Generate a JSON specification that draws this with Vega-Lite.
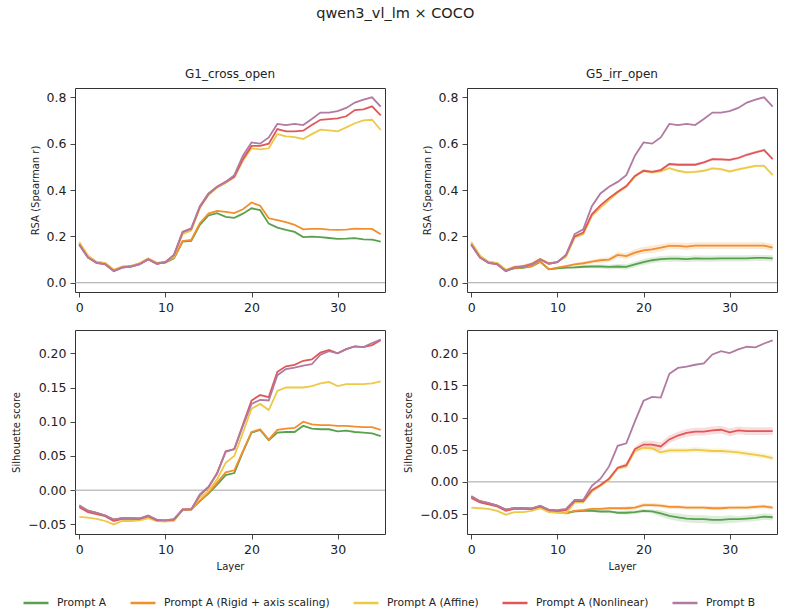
{
  "$schema": "https://vega.github.io/schema/vega-lite/v6.json",
  "padding": {"left": 11, "top": 5, "right": 8, "bottom": 5},
  "title": {"text": "qwen3_vl_lm × COCO", "fontSize": 14.5, "fontWeight": "normal", "anchor": "middle", "offset": 47, "color": "#222"},
  "config": {
    "font": "DejaVu Sans",
    "view": {"stroke": null},
    "axis": {"labelFont": "DejaVu Sans", "labelFontSize": 12.5, "labelColor": "#222", "tickColor": "#333", "tickSize": 5, "tickWidth": 0.9, "labelPadding": 4, "domain": true, "domainColor": "#333", "domainWidth": 1, "gridColor": "#e8e8e8", "gridWidth": 0.8, "titleFont": "DejaVu Sans", "titleFontSize": 10, "titleFontWeight": "normal", "titleColor": "#222", "titlePadding": 6},
    "title": {"font": "DejaVu Sans", "fontSize": 12, "fontWeight": "normal", "color": "#222", "offset": 7},
    "legend": {"labelFont": "DejaVu Sans", "labelFontSize": 10.7, "labelColor": "#222", "labelLimit": 400}
  },
  "datasets": {
    "zero": [{"l": -0.5, "z": 0}, {"l": 35.5, "z": 0}],
    "g1rsa": [
      {"s":"Prompt A","l":0,"v":0.168},{"s":"Prompt A","l":1,"v":0.112},{"s":"Prompt A","l":2,"v":0.087},{"s":"Prompt A","l":3,"v":0.082},{"s":"Prompt A","l":4,"v":0.052},{"s":"Prompt A","l":5,"v":0.066},{"s":"Prompt A","l":6,"v":0.071},{"s":"Prompt A","l":7,"v":0.081},{"s":"Prompt A","l":8,"v":0.102},{"s":"Prompt A","l":9,"v":0.083},{"s":"Prompt A","l":10,"v":0.087},{"s":"Prompt A","l":11,"v":0.105},{"s":"Prompt A","l":12,"v":0.177},{"s":"Prompt A","l":13,"v":0.18},{"s":"Prompt A","l":14,"v":0.25},{"s":"Prompt A","l":15,"v":0.29},{"s":"Prompt A","l":16,"v":0.3},{"s":"Prompt A","l":17,"v":0.284},{"s":"Prompt A","l":18,"v":0.28},{"s":"Prompt A","l":19,"v":0.298},{"s":"Prompt A","l":20,"v":0.321},{"s":"Prompt A","l":21,"v":0.313},{"s":"Prompt A","l":22,"v":0.255},{"s":"Prompt A","l":23,"v":0.238},{"s":"Prompt A","l":24,"v":0.228},{"s":"Prompt A","l":25,"v":0.219},{"s":"Prompt A","l":26,"v":0.197},{"s":"Prompt A","l":27,"v":0.199},{"s":"Prompt A","l":28,"v":0.197},{"s":"Prompt A","l":29,"v":0.193},{"s":"Prompt A","l":30,"v":0.189},{"s":"Prompt A","l":31,"v":0.19},{"s":"Prompt A","l":32,"v":0.192},{"s":"Prompt A","l":33,"v":0.187},{"s":"Prompt A","l":34,"v":0.186},{"s":"Prompt A","l":35,"v":0.177},
      {"s":"Prompt A (Rigid + axis scaling)","l":0,"v":0.173},{"s":"Prompt A (Rigid + axis scaling)","l":1,"v":0.115},{"s":"Prompt A (Rigid + axis scaling)","l":2,"v":0.089},{"s":"Prompt A (Rigid + axis scaling)","l":3,"v":0.085},{"s":"Prompt A (Rigid + axis scaling)","l":4,"v":0.055},{"s":"Prompt A (Rigid + axis scaling)","l":5,"v":0.069},{"s":"Prompt A (Rigid + axis scaling)","l":6,"v":0.072},{"s":"Prompt A (Rigid + axis scaling)","l":7,"v":0.084},{"s":"Prompt A (Rigid + axis scaling)","l":8,"v":0.104},{"s":"Prompt A (Rigid + axis scaling)","l":9,"v":0.086},{"s":"Prompt A (Rigid + axis scaling)","l":10,"v":0.089},{"s":"Prompt A (Rigid + axis scaling)","l":11,"v":0.108},{"s":"Prompt A (Rigid + axis scaling)","l":12,"v":0.18},{"s":"Prompt A (Rigid + axis scaling)","l":13,"v":0.185},{"s":"Prompt A (Rigid + axis scaling)","l":14,"v":0.257},{"s":"Prompt A (Rigid + axis scaling)","l":15,"v":0.298},{"s":"Prompt A (Rigid + axis scaling)","l":16,"v":0.31},{"s":"Prompt A (Rigid + axis scaling)","l":17,"v":0.306},{"s":"Prompt A (Rigid + axis scaling)","l":18,"v":0.3},{"s":"Prompt A (Rigid + axis scaling)","l":19,"v":0.317},{"s":"Prompt A (Rigid + axis scaling)","l":20,"v":0.346},{"s":"Prompt A (Rigid + axis scaling)","l":21,"v":0.332},{"s":"Prompt A (Rigid + axis scaling)","l":22,"v":0.278},{"s":"Prompt A (Rigid + axis scaling)","l":23,"v":0.27},{"s":"Prompt A (Rigid + axis scaling)","l":24,"v":0.261},{"s":"Prompt A (Rigid + axis scaling)","l":25,"v":0.25},{"s":"Prompt A (Rigid + axis scaling)","l":26,"v":0.23},{"s":"Prompt A (Rigid + axis scaling)","l":27,"v":0.232},{"s":"Prompt A (Rigid + axis scaling)","l":28,"v":0.232},{"s":"Prompt A (Rigid + axis scaling)","l":29,"v":0.229},{"s":"Prompt A (Rigid + axis scaling)","l":30,"v":0.228},{"s":"Prompt A (Rigid + axis scaling)","l":31,"v":0.229},{"s":"Prompt A (Rigid + axis scaling)","l":32,"v":0.233},{"s":"Prompt A (Rigid + axis scaling)","l":33,"v":0.232},{"s":"Prompt A (Rigid + axis scaling)","l":34,"v":0.232},{"s":"Prompt A (Rigid + axis scaling)","l":35,"v":0.209},
      {"s":"Prompt A (Affine)","l":0,"v":0.175},{"s":"Prompt A (Affine)","l":1,"v":0.117},{"s":"Prompt A (Affine)","l":2,"v":0.09},{"s":"Prompt A (Affine)","l":3,"v":0.086},{"s":"Prompt A (Affine)","l":4,"v":0.056},{"s":"Prompt A (Affine)","l":5,"v":0.069},{"s":"Prompt A (Affine)","l":6,"v":0.073},{"s":"Prompt A (Affine)","l":7,"v":0.083},{"s":"Prompt A (Affine)","l":8,"v":0.103},{"s":"Prompt A (Affine)","l":9,"v":0.085},{"s":"Prompt A (Affine)","l":10,"v":0.09},{"s":"Prompt A (Affine)","l":11,"v":0.112},{"s":"Prompt A (Affine)","l":12,"v":0.21},{"s":"Prompt A (Affine)","l":13,"v":0.225},{"s":"Prompt A (Affine)","l":14,"v":0.322},{"s":"Prompt A (Affine)","l":15,"v":0.378},{"s":"Prompt A (Affine)","l":16,"v":0.41},{"s":"Prompt A (Affine)","l":17,"v":0.43},{"s":"Prompt A (Affine)","l":18,"v":0.455},{"s":"Prompt A (Affine)","l":19,"v":0.526},{"s":"Prompt A (Affine)","l":20,"v":0.58},{"s":"Prompt A (Affine)","l":21,"v":0.575},{"s":"Prompt A (Affine)","l":22,"v":0.58},{"s":"Prompt A (Affine)","l":23,"v":0.641},{"s":"Prompt A (Affine)","l":24,"v":0.631},{"s":"Prompt A (Affine)","l":25,"v":0.628},{"s":"Prompt A (Affine)","l":26,"v":0.62},{"s":"Prompt A (Affine)","l":27,"v":0.641},{"s":"Prompt A (Affine)","l":28,"v":0.66},{"s":"Prompt A (Affine)","l":29,"v":0.657},{"s":"Prompt A (Affine)","l":30,"v":0.653},{"s":"Prompt A (Affine)","l":31,"v":0.67},{"s":"Prompt A (Affine)","l":32,"v":0.688},{"s":"Prompt A (Affine)","l":33,"v":0.7},{"s":"Prompt A (Affine)","l":34,"v":0.703},{"s":"Prompt A (Affine)","l":35,"v":0.659},
      {"s":"Prompt A (Nonlinear)","l":0,"v":0.165},{"s":"Prompt A (Nonlinear)","l":1,"v":0.109},{"s":"Prompt A (Nonlinear)","l":2,"v":0.086},{"s":"Prompt A (Nonlinear)","l":3,"v":0.08},{"s":"Prompt A (Nonlinear)","l":4,"v":0.051},{"s":"Prompt A (Nonlinear)","l":5,"v":0.066},{"s":"Prompt A (Nonlinear)","l":6,"v":0.07},{"s":"Prompt A (Nonlinear)","l":7,"v":0.08},{"s":"Prompt A (Nonlinear)","l":8,"v":0.101},{"s":"Prompt A (Nonlinear)","l":9,"v":0.082},{"s":"Prompt A (Nonlinear)","l":10,"v":0.089},{"s":"Prompt A (Nonlinear)","l":11,"v":0.12},{"s":"Prompt A (Nonlinear)","l":12,"v":0.218},{"s":"Prompt A (Nonlinear)","l":13,"v":0.233},{"s":"Prompt A (Nonlinear)","l":14,"v":0.327},{"s":"Prompt A (Nonlinear)","l":15,"v":0.382},{"s":"Prompt A (Nonlinear)","l":16,"v":0.414},{"s":"Prompt A (Nonlinear)","l":17,"v":0.435},{"s":"Prompt A (Nonlinear)","l":18,"v":0.457},{"s":"Prompt A (Nonlinear)","l":19,"v":0.533},{"s":"Prompt A (Nonlinear)","l":20,"v":0.59},{"s":"Prompt A (Nonlinear)","l":21,"v":0.59},{"s":"Prompt A (Nonlinear)","l":22,"v":0.6},{"s":"Prompt A (Nonlinear)","l":23,"v":0.663},{"s":"Prompt A (Nonlinear)","l":24,"v":0.653},{"s":"Prompt A (Nonlinear)","l":25,"v":0.653},{"s":"Prompt A (Nonlinear)","l":26,"v":0.656},{"s":"Prompt A (Nonlinear)","l":27,"v":0.68},{"s":"Prompt A (Nonlinear)","l":28,"v":0.703},{"s":"Prompt A (Nonlinear)","l":29,"v":0.706},{"s":"Prompt A (Nonlinear)","l":30,"v":0.709},{"s":"Prompt A (Nonlinear)","l":31,"v":0.718},{"s":"Prompt A (Nonlinear)","l":32,"v":0.745},{"s":"Prompt A (Nonlinear)","l":33,"v":0.748},{"s":"Prompt A (Nonlinear)","l":34,"v":0.761},{"s":"Prompt A (Nonlinear)","l":35,"v":0.722},
      {"s":"Prompt B","l":0,"v":0.163},{"s":"Prompt B","l":1,"v":0.108},{"s":"Prompt B","l":2,"v":0.086},{"s":"Prompt B","l":3,"v":0.079},{"s":"Prompt B","l":4,"v":0.05},{"s":"Prompt B","l":5,"v":0.065},{"s":"Prompt B","l":6,"v":0.07},{"s":"Prompt B","l":7,"v":0.079},{"s":"Prompt B","l":8,"v":0.1},{"s":"Prompt B","l":9,"v":0.082},{"s":"Prompt B","l":10,"v":0.089},{"s":"Prompt B","l":11,"v":0.12},{"s":"Prompt B","l":12,"v":0.22},{"s":"Prompt B","l":13,"v":0.235},{"s":"Prompt B","l":14,"v":0.33},{"s":"Prompt B","l":15,"v":0.385},{"s":"Prompt B","l":16,"v":0.414},{"s":"Prompt B","l":17,"v":0.435},{"s":"Prompt B","l":18,"v":0.464},{"s":"Prompt B","l":19,"v":0.548},{"s":"Prompt B","l":20,"v":0.605},{"s":"Prompt B","l":21,"v":0.6},{"s":"Prompt B","l":22,"v":0.627},{"s":"Prompt B","l":23,"v":0.685},{"s":"Prompt B","l":24,"v":0.68},{"s":"Prompt B","l":25,"v":0.685},{"s":"Prompt B","l":26,"v":0.68},{"s":"Prompt B","l":27,"v":0.706},{"s":"Prompt B","l":28,"v":0.734},{"s":"Prompt B","l":29,"v":0.734},{"s":"Prompt B","l":30,"v":0.74},{"s":"Prompt B","l":31,"v":0.754},{"s":"Prompt B","l":32,"v":0.777},{"s":"Prompt B","l":33,"v":0.79},{"s":"Prompt B","l":34,"v":0.8},{"s":"Prompt B","l":35,"v":0.76}
    ],
    "g5rsa": [
      {"s":"Prompt A","l":0,"v":0.168,"e":0},{"s":"Prompt A","l":1,"v":0.112,"e":0},{"s":"Prompt A","l":2,"v":0.087,"e":0},{"s":"Prompt A","l":3,"v":0.082,"e":0},{"s":"Prompt A","l":4,"v":0.052,"e":0},{"s":"Prompt A","l":5,"v":0.062,"e":0.001},{"s":"Prompt A","l":6,"v":0.064,"e":0.001},{"s":"Prompt A","l":7,"v":0.07,"e":0.001},{"s":"Prompt A","l":8,"v":0.09,"e":0.002},{"s":"Prompt A","l":9,"v":0.058,"e":0.003},{"s":"Prompt A","l":10,"v":0.062,"e":0.004},{"s":"Prompt A","l":11,"v":0.065,"e":0.005},{"s":"Prompt A","l":12,"v":0.066,"e":0.006},{"s":"Prompt A","l":13,"v":0.069,"e":0.007},{"s":"Prompt A","l":14,"v":0.07,"e":0.008},{"s":"Prompt A","l":15,"v":0.07,"e":0.009},{"s":"Prompt A","l":16,"v":0.068,"e":0.01},{"s":"Prompt A","l":17,"v":0.07,"e":0.011},{"s":"Prompt A","l":18,"v":0.068,"e":0.012},{"s":"Prompt A","l":19,"v":0.079,"e":0.012},{"s":"Prompt A","l":20,"v":0.089,"e":0.013},{"s":"Prompt A","l":21,"v":0.097,"e":0.013},{"s":"Prompt A","l":22,"v":0.102,"e":0.013},{"s":"Prompt A","l":23,"v":0.104,"e":0.013},{"s":"Prompt A","l":24,"v":0.104,"e":0.013},{"s":"Prompt A","l":25,"v":0.102,"e":0.013},{"s":"Prompt A","l":26,"v":0.105,"e":0.013},{"s":"Prompt A","l":27,"v":0.104,"e":0.013},{"s":"Prompt A","l":28,"v":0.104,"e":0.013},{"s":"Prompt A","l":29,"v":0.105,"e":0.013},{"s":"Prompt A","l":30,"v":0.105,"e":0.013},{"s":"Prompt A","l":31,"v":0.105,"e":0.013},{"s":"Prompt A","l":32,"v":0.105,"e":0.013},{"s":"Prompt A","l":33,"v":0.107,"e":0.013},{"s":"Prompt A","l":34,"v":0.107,"e":0.013},{"s":"Prompt A","l":35,"v":0.105,"e":0.013},
      {"s":"Prompt A (Rigid + axis scaling)","l":0,"v":0.173,"e":0},{"s":"Prompt A (Rigid + axis scaling)","l":1,"v":0.115,"e":0},{"s":"Prompt A (Rigid + axis scaling)","l":2,"v":0.089,"e":0},{"s":"Prompt A (Rigid + axis scaling)","l":3,"v":0.085,"e":0},{"s":"Prompt A (Rigid + axis scaling)","l":4,"v":0.055,"e":0},{"s":"Prompt A (Rigid + axis scaling)","l":5,"v":0.063,"e":0.001},{"s":"Prompt A (Rigid + axis scaling)","l":6,"v":0.066,"e":0.001},{"s":"Prompt A (Rigid + axis scaling)","l":7,"v":0.072,"e":0.001},{"s":"Prompt A (Rigid + axis scaling)","l":8,"v":0.092,"e":0.002},{"s":"Prompt A (Rigid + axis scaling)","l":9,"v":0.058,"e":0.003},{"s":"Prompt A (Rigid + axis scaling)","l":10,"v":0.065,"e":0.004},{"s":"Prompt A (Rigid + axis scaling)","l":11,"v":0.072,"e":0.005},{"s":"Prompt A (Rigid + axis scaling)","l":12,"v":0.079,"e":0.006},{"s":"Prompt A (Rigid + axis scaling)","l":13,"v":0.084,"e":0.007},{"s":"Prompt A (Rigid + axis scaling)","l":14,"v":0.091,"e":0.008},{"s":"Prompt A (Rigid + axis scaling)","l":15,"v":0.097,"e":0.01},{"s":"Prompt A (Rigid + axis scaling)","l":16,"v":0.1,"e":0.011},{"s":"Prompt A (Rigid + axis scaling)","l":17,"v":0.12,"e":0.012},{"s":"Prompt A (Rigid + axis scaling)","l":18,"v":0.115,"e":0.013},{"s":"Prompt A (Rigid + axis scaling)","l":19,"v":0.13,"e":0.014},{"s":"Prompt A (Rigid + axis scaling)","l":20,"v":0.14,"e":0.015},{"s":"Prompt A (Rigid + axis scaling)","l":21,"v":0.144,"e":0.015},{"s":"Prompt A (Rigid + axis scaling)","l":22,"v":0.151,"e":0.015},{"s":"Prompt A (Rigid + axis scaling)","l":23,"v":0.159,"e":0.015},{"s":"Prompt A (Rigid + axis scaling)","l":24,"v":0.159,"e":0.015},{"s":"Prompt A (Rigid + axis scaling)","l":25,"v":0.156,"e":0.015},{"s":"Prompt A (Rigid + axis scaling)","l":26,"v":0.16,"e":0.015},{"s":"Prompt A (Rigid + axis scaling)","l":27,"v":0.16,"e":0.015},{"s":"Prompt A (Rigid + axis scaling)","l":28,"v":0.16,"e":0.015},{"s":"Prompt A (Rigid + axis scaling)","l":29,"v":0.16,"e":0.015},{"s":"Prompt A (Rigid + axis scaling)","l":30,"v":0.16,"e":0.015},{"s":"Prompt A (Rigid + axis scaling)","l":31,"v":0.16,"e":0.015},{"s":"Prompt A (Rigid + axis scaling)","l":32,"v":0.16,"e":0.015},{"s":"Prompt A (Rigid + axis scaling)","l":33,"v":0.16,"e":0.015},{"s":"Prompt A (Rigid + axis scaling)","l":34,"v":0.16,"e":0.015},{"s":"Prompt A (Rigid + axis scaling)","l":35,"v":0.151,"e":0.015},
      {"s":"Prompt A (Affine)","l":0,"v":0.175,"e":0.002},{"s":"Prompt A (Affine)","l":1,"v":0.117,"e":0.002},{"s":"Prompt A (Affine)","l":2,"v":0.09,"e":0.002},{"s":"Prompt A (Affine)","l":3,"v":0.086,"e":0.002},{"s":"Prompt A (Affine)","l":4,"v":0.056,"e":0.002},{"s":"Prompt A (Affine)","l":5,"v":0.069,"e":0.002},{"s":"Prompt A (Affine)","l":6,"v":0.073,"e":0.002},{"s":"Prompt A (Affine)","l":7,"v":0.083,"e":0.002},{"s":"Prompt A (Affine)","l":8,"v":0.103,"e":0.002},{"s":"Prompt A (Affine)","l":9,"v":0.085,"e":0.002},{"s":"Prompt A (Affine)","l":10,"v":0.09,"e":0.002},{"s":"Prompt A (Affine)","l":11,"v":0.112,"e":0.002},{"s":"Prompt A (Affine)","l":12,"v":0.195,"e":0.004},{"s":"Prompt A (Affine)","l":13,"v":0.209,"e":0.004},{"s":"Prompt A (Affine)","l":14,"v":0.288,"e":0.004},{"s":"Prompt A (Affine)","l":15,"v":0.324,"e":0.004},{"s":"Prompt A (Affine)","l":16,"v":0.357,"e":0.005},{"s":"Prompt A (Affine)","l":17,"v":0.389,"e":0.005},{"s":"Prompt A (Affine)","l":18,"v":0.414,"e":0.005},{"s":"Prompt A (Affine)","l":19,"v":0.458,"e":0.005},{"s":"Prompt A (Affine)","l":20,"v":0.483,"e":0.006},{"s":"Prompt A (Affine)","l":21,"v":0.476,"e":0.006},{"s":"Prompt A (Affine)","l":22,"v":0.48,"e":0.006},{"s":"Prompt A (Affine)","l":23,"v":0.494,"e":0.006},{"s":"Prompt A (Affine)","l":24,"v":0.483,"e":0.006},{"s":"Prompt A (Affine)","l":25,"v":0.476,"e":0.006},{"s":"Prompt A (Affine)","l":26,"v":0.478,"e":0.006},{"s":"Prompt A (Affine)","l":27,"v":0.483,"e":0.006},{"s":"Prompt A (Affine)","l":28,"v":0.493,"e":0.006},{"s":"Prompt A (Affine)","l":29,"v":0.49,"e":0.006},{"s":"Prompt A (Affine)","l":30,"v":0.48,"e":0.006},{"s":"Prompt A (Affine)","l":31,"v":0.489,"e":0.006},{"s":"Prompt A (Affine)","l":32,"v":0.497,"e":0.006},{"s":"Prompt A (Affine)","l":33,"v":0.504,"e":0.006},{"s":"Prompt A (Affine)","l":34,"v":0.504,"e":0.006},{"s":"Prompt A (Affine)","l":35,"v":0.464,"e":0.006},
      {"s":"Prompt A (Nonlinear)","l":0,"v":0.165,"e":0.002},{"s":"Prompt A (Nonlinear)","l":1,"v":0.109,"e":0.002},{"s":"Prompt A (Nonlinear)","l":2,"v":0.086,"e":0.002},{"s":"Prompt A (Nonlinear)","l":3,"v":0.08,"e":0.002},{"s":"Prompt A (Nonlinear)","l":4,"v":0.051,"e":0.002},{"s":"Prompt A (Nonlinear)","l":5,"v":0.066,"e":0.002},{"s":"Prompt A (Nonlinear)","l":6,"v":0.07,"e":0.002},{"s":"Prompt A (Nonlinear)","l":7,"v":0.08,"e":0.002},{"s":"Prompt A (Nonlinear)","l":8,"v":0.101,"e":0.002},{"s":"Prompt A (Nonlinear)","l":9,"v":0.082,"e":0.002},{"s":"Prompt A (Nonlinear)","l":10,"v":0.089,"e":0.002},{"s":"Prompt A (Nonlinear)","l":11,"v":0.12,"e":0.002},{"s":"Prompt A (Nonlinear)","l":12,"v":0.2,"e":0.004},{"s":"Prompt A (Nonlinear)","l":13,"v":0.216,"e":0.004},{"s":"Prompt A (Nonlinear)","l":14,"v":0.295,"e":0.004},{"s":"Prompt A (Nonlinear)","l":15,"v":0.334,"e":0.004},{"s":"Prompt A (Nonlinear)","l":16,"v":0.365,"e":0.005},{"s":"Prompt A (Nonlinear)","l":17,"v":0.392,"e":0.005},{"s":"Prompt A (Nonlinear)","l":18,"v":0.417,"e":0.005},{"s":"Prompt A (Nonlinear)","l":19,"v":0.461,"e":0.005},{"s":"Prompt A (Nonlinear)","l":20,"v":0.483,"e":0.006},{"s":"Prompt A (Nonlinear)","l":21,"v":0.478,"e":0.006},{"s":"Prompt A (Nonlinear)","l":22,"v":0.486,"e":0.006},{"s":"Prompt A (Nonlinear)","l":23,"v":0.512,"e":0.006},{"s":"Prompt A (Nonlinear)","l":24,"v":0.509,"e":0.006},{"s":"Prompt A (Nonlinear)","l":25,"v":0.509,"e":0.006},{"s":"Prompt A (Nonlinear)","l":26,"v":0.509,"e":0.006},{"s":"Prompt A (Nonlinear)","l":27,"v":0.519,"e":0.006},{"s":"Prompt A (Nonlinear)","l":28,"v":0.533,"e":0.006},{"s":"Prompt A (Nonlinear)","l":29,"v":0.532,"e":0.006},{"s":"Prompt A (Nonlinear)","l":30,"v":0.53,"e":0.006},{"s":"Prompt A (Nonlinear)","l":31,"v":0.538,"e":0.006},{"s":"Prompt A (Nonlinear)","l":32,"v":0.552,"e":0.006},{"s":"Prompt A (Nonlinear)","l":33,"v":0.562,"e":0.006},{"s":"Prompt A (Nonlinear)","l":34,"v":0.572,"e":0.006},{"s":"Prompt A (Nonlinear)","l":35,"v":0.533,"e":0.006},
      {"s":"Prompt B","l":0,"v":0.163,"e":0},{"s":"Prompt B","l":1,"v":0.108,"e":0},{"s":"Prompt B","l":2,"v":0.086,"e":0},{"s":"Prompt B","l":3,"v":0.079,"e":0},{"s":"Prompt B","l":4,"v":0.05,"e":0},{"s":"Prompt B","l":5,"v":0.065,"e":0},{"s":"Prompt B","l":6,"v":0.07,"e":0},{"s":"Prompt B","l":7,"v":0.079,"e":0},{"s":"Prompt B","l":8,"v":0.1,"e":0},{"s":"Prompt B","l":9,"v":0.082,"e":0},{"s":"Prompt B","l":10,"v":0.089,"e":0},{"s":"Prompt B","l":11,"v":0.12,"e":0},{"s":"Prompt B","l":12,"v":0.21,"e":0},{"s":"Prompt B","l":13,"v":0.23,"e":0},{"s":"Prompt B","l":14,"v":0.33,"e":0},{"s":"Prompt B","l":15,"v":0.385,"e":0},{"s":"Prompt B","l":16,"v":0.414,"e":0},{"s":"Prompt B","l":17,"v":0.435,"e":0},{"s":"Prompt B","l":18,"v":0.464,"e":0},{"s":"Prompt B","l":19,"v":0.548,"e":0},{"s":"Prompt B","l":20,"v":0.605,"e":0},{"s":"Prompt B","l":21,"v":0.6,"e":0},{"s":"Prompt B","l":22,"v":0.627,"e":0},{"s":"Prompt B","l":23,"v":0.685,"e":0},{"s":"Prompt B","l":24,"v":0.68,"e":0},{"s":"Prompt B","l":25,"v":0.685,"e":0},{"s":"Prompt B","l":26,"v":0.68,"e":0},{"s":"Prompt B","l":27,"v":0.706,"e":0},{"s":"Prompt B","l":28,"v":0.734,"e":0},{"s":"Prompt B","l":29,"v":0.734,"e":0},{"s":"Prompt B","l":30,"v":0.74,"e":0},{"s":"Prompt B","l":31,"v":0.754,"e":0},{"s":"Prompt B","l":32,"v":0.777,"e":0},{"s":"Prompt B","l":33,"v":0.79,"e":0},{"s":"Prompt B","l":34,"v":0.8,"e":0},{"s":"Prompt B","l":35,"v":0.76,"e":0}
    ],
    "g1sil": [
      {"s":"Prompt A","l":0,"v":-0.023},{"s":"Prompt A","l":1,"v":-0.03},{"s":"Prompt A","l":2,"v":-0.033},{"s":"Prompt A","l":3,"v":-0.037},{"s":"Prompt A","l":4,"v":-0.043},{"s":"Prompt A","l":5,"v":-0.041},{"s":"Prompt A","l":6,"v":-0.041},{"s":"Prompt A","l":7,"v":-0.042},{"s":"Prompt A","l":8,"v":-0.038},{"s":"Prompt A","l":9,"v":-0.044},{"s":"Prompt A","l":10,"v":-0.045},{"s":"Prompt A","l":11,"v":-0.043},{"s":"Prompt A","l":12,"v":-0.029},{"s":"Prompt A","l":13,"v":-0.028},{"s":"Prompt A","l":14,"v":-0.016},{"s":"Prompt A","l":15,"v":-0.005},{"s":"Prompt A","l":16,"v":0.008},{"s":"Prompt A","l":17,"v":0.022},{"s":"Prompt A","l":18,"v":0.025},{"s":"Prompt A","l":19,"v":0.056},{"s":"Prompt A","l":20,"v":0.084},{"s":"Prompt A","l":21,"v":0.088},{"s":"Prompt A","l":22,"v":0.073},{"s":"Prompt A","l":23,"v":0.084},{"s":"Prompt A","l":24,"v":0.085},{"s":"Prompt A","l":25,"v":0.085},{"s":"Prompt A","l":26,"v":0.094},{"s":"Prompt A","l":27,"v":0.09},{"s":"Prompt A","l":28,"v":0.089},{"s":"Prompt A","l":29,"v":0.089},{"s":"Prompt A","l":30,"v":0.086},{"s":"Prompt A","l":31,"v":0.087},{"s":"Prompt A","l":32,"v":0.085},{"s":"Prompt A","l":33,"v":0.084},{"s":"Prompt A","l":34,"v":0.083},{"s":"Prompt A","l":35,"v":0.079},
      {"s":"Prompt A (Rigid + axis scaling)","l":0,"v":-0.023},{"s":"Prompt A (Rigid + axis scaling)","l":1,"v":-0.03},{"s":"Prompt A (Rigid + axis scaling)","l":2,"v":-0.033},{"s":"Prompt A (Rigid + axis scaling)","l":3,"v":-0.037},{"s":"Prompt A (Rigid + axis scaling)","l":4,"v":-0.043},{"s":"Prompt A (Rigid + axis scaling)","l":5,"v":-0.041},{"s":"Prompt A (Rigid + axis scaling)","l":6,"v":-0.041},{"s":"Prompt A (Rigid + axis scaling)","l":7,"v":-0.042},{"s":"Prompt A (Rigid + axis scaling)","l":8,"v":-0.038},{"s":"Prompt A (Rigid + axis scaling)","l":9,"v":-0.044},{"s":"Prompt A (Rigid + axis scaling)","l":10,"v":-0.045},{"s":"Prompt A (Rigid + axis scaling)","l":11,"v":-0.043},{"s":"Prompt A (Rigid + axis scaling)","l":12,"v":-0.029},{"s":"Prompt A (Rigid + axis scaling)","l":13,"v":-0.028},{"s":"Prompt A (Rigid + axis scaling)","l":14,"v":-0.016},{"s":"Prompt A (Rigid + axis scaling)","l":15,"v":-0.004},{"s":"Prompt A (Rigid + axis scaling)","l":16,"v":0.011},{"s":"Prompt A (Rigid + axis scaling)","l":17,"v":0.026},{"s":"Prompt A (Rigid + axis scaling)","l":18,"v":0.029},{"s":"Prompt A (Rigid + axis scaling)","l":19,"v":0.057},{"s":"Prompt A (Rigid + axis scaling)","l":20,"v":0.085},{"s":"Prompt A (Rigid + axis scaling)","l":21,"v":0.089},{"s":"Prompt A (Rigid + axis scaling)","l":22,"v":0.074},{"s":"Prompt A (Rigid + axis scaling)","l":23,"v":0.088},{"s":"Prompt A (Rigid + axis scaling)","l":24,"v":0.09},{"s":"Prompt A (Rigid + axis scaling)","l":25,"v":0.091},{"s":"Prompt A (Rigid + axis scaling)","l":26,"v":0.1},{"s":"Prompt A (Rigid + axis scaling)","l":27,"v":0.096},{"s":"Prompt A (Rigid + axis scaling)","l":28,"v":0.095},{"s":"Prompt A (Rigid + axis scaling)","l":29,"v":0.095},{"s":"Prompt A (Rigid + axis scaling)","l":30,"v":0.094},{"s":"Prompt A (Rigid + axis scaling)","l":31,"v":0.094},{"s":"Prompt A (Rigid + axis scaling)","l":32,"v":0.093},{"s":"Prompt A (Rigid + axis scaling)","l":33,"v":0.092},{"s":"Prompt A (Rigid + axis scaling)","l":34,"v":0.092},{"s":"Prompt A (Rigid + axis scaling)","l":35,"v":0.088},
      {"s":"Prompt A (Affine)","l":0,"v":-0.039},{"s":"Prompt A (Affine)","l":1,"v":-0.04},{"s":"Prompt A (Affine)","l":2,"v":-0.042},{"s":"Prompt A (Affine)","l":3,"v":-0.045},{"s":"Prompt A (Affine)","l":4,"v":-0.05},{"s":"Prompt A (Affine)","l":5,"v":-0.045},{"s":"Prompt A (Affine)","l":6,"v":-0.045},{"s":"Prompt A (Affine)","l":7,"v":-0.044},{"s":"Prompt A (Affine)","l":8,"v":-0.041},{"s":"Prompt A (Affine)","l":9,"v":-0.045},{"s":"Prompt A (Affine)","l":10,"v":-0.046},{"s":"Prompt A (Affine)","l":11,"v":-0.045},{"s":"Prompt A (Affine)","l":12,"v":-0.028},{"s":"Prompt A (Affine)","l":13,"v":-0.028},{"s":"Prompt A (Affine)","l":14,"v":-0.011},{"s":"Prompt A (Affine)","l":15,"v":-0.001},{"s":"Prompt A (Affine)","l":16,"v":0.016},{"s":"Prompt A (Affine)","l":17,"v":0.04},{"s":"Prompt A (Affine)","l":18,"v":0.05},{"s":"Prompt A (Affine)","l":19,"v":0.084},{"s":"Prompt A (Affine)","l":20,"v":0.119},{"s":"Prompt A (Affine)","l":21,"v":0.126},{"s":"Prompt A (Affine)","l":22,"v":0.117},{"s":"Prompt A (Affine)","l":23,"v":0.145},{"s":"Prompt A (Affine)","l":24,"v":0.15},{"s":"Prompt A (Affine)","l":25,"v":0.15},{"s":"Prompt A (Affine)","l":26,"v":0.15},{"s":"Prompt A (Affine)","l":27,"v":0.152},{"s":"Prompt A (Affine)","l":28,"v":0.156},{"s":"Prompt A (Affine)","l":29,"v":0.158},{"s":"Prompt A (Affine)","l":30,"v":0.152},{"s":"Prompt A (Affine)","l":31,"v":0.155},{"s":"Prompt A (Affine)","l":32,"v":0.155},{"s":"Prompt A (Affine)","l":33,"v":0.155},{"s":"Prompt A (Affine)","l":34,"v":0.156},{"s":"Prompt A (Affine)","l":35,"v":0.159},
      {"s":"Prompt A (Nonlinear)","l":0,"v":-0.025},{"s":"Prompt A (Nonlinear)","l":1,"v":-0.032},{"s":"Prompt A (Nonlinear)","l":2,"v":-0.035},{"s":"Prompt A (Nonlinear)","l":3,"v":-0.038},{"s":"Prompt A (Nonlinear)","l":4,"v":-0.045},{"s":"Prompt A (Nonlinear)","l":5,"v":-0.042},{"s":"Prompt A (Nonlinear)","l":6,"v":-0.042},{"s":"Prompt A (Nonlinear)","l":7,"v":-0.042},{"s":"Prompt A (Nonlinear)","l":8,"v":-0.038},{"s":"Prompt A (Nonlinear)","l":9,"v":-0.044},{"s":"Prompt A (Nonlinear)","l":10,"v":-0.044},{"s":"Prompt A (Nonlinear)","l":11,"v":-0.043},{"s":"Prompt A (Nonlinear)","l":12,"v":-0.028},{"s":"Prompt A (Nonlinear)","l":13,"v":-0.028},{"s":"Prompt A (Nonlinear)","l":14,"v":-0.007},{"s":"Prompt A (Nonlinear)","l":15,"v":0.004},{"s":"Prompt A (Nonlinear)","l":16,"v":0.025},{"s":"Prompt A (Nonlinear)","l":17,"v":0.057},{"s":"Prompt A (Nonlinear)","l":18,"v":0.06},{"s":"Prompt A (Nonlinear)","l":19,"v":0.096},{"s":"Prompt A (Nonlinear)","l":20,"v":0.131},{"s":"Prompt A (Nonlinear)","l":21,"v":0.139},{"s":"Prompt A (Nonlinear)","l":22,"v":0.136},{"s":"Prompt A (Nonlinear)","l":23,"v":0.173},{"s":"Prompt A (Nonlinear)","l":24,"v":0.181},{"s":"Prompt A (Nonlinear)","l":25,"v":0.183},{"s":"Prompt A (Nonlinear)","l":26,"v":0.189},{"s":"Prompt A (Nonlinear)","l":27,"v":0.191},{"s":"Prompt A (Nonlinear)","l":28,"v":0.201},{"s":"Prompt A (Nonlinear)","l":29,"v":0.205},{"s":"Prompt A (Nonlinear)","l":30,"v":0.2},{"s":"Prompt A (Nonlinear)","l":31,"v":0.206},{"s":"Prompt A (Nonlinear)","l":32,"v":0.21},{"s":"Prompt A (Nonlinear)","l":33,"v":0.209},{"s":"Prompt A (Nonlinear)","l":34,"v":0.212},{"s":"Prompt A (Nonlinear)","l":35,"v":0.219},
      {"s":"Prompt B","l":0,"v":-0.022},{"s":"Prompt B","l":1,"v":-0.03},{"s":"Prompt B","l":2,"v":-0.033},{"s":"Prompt B","l":3,"v":-0.037},{"s":"Prompt B","l":4,"v":-0.043},{"s":"Prompt B","l":5,"v":-0.041},{"s":"Prompt B","l":6,"v":-0.041},{"s":"Prompt B","l":7,"v":-0.041},{"s":"Prompt B","l":8,"v":-0.037},{"s":"Prompt B","l":9,"v":-0.043},{"s":"Prompt B","l":10,"v":-0.044},{"s":"Prompt B","l":11,"v":-0.042},{"s":"Prompt B","l":12,"v":-0.028},{"s":"Prompt B","l":13,"v":-0.028},{"s":"Prompt B","l":14,"v":-0.006},{"s":"Prompt B","l":15,"v":0.005},{"s":"Prompt B","l":16,"v":0.024},{"s":"Prompt B","l":17,"v":0.056},{"s":"Prompt B","l":18,"v":0.06},{"s":"Prompt B","l":19,"v":0.094},{"s":"Prompt B","l":20,"v":0.126},{"s":"Prompt B","l":21,"v":0.132},{"s":"Prompt B","l":22,"v":0.131},{"s":"Prompt B","l":23,"v":0.168},{"s":"Prompt B","l":24,"v":0.177},{"s":"Prompt B","l":25,"v":0.179},{"s":"Prompt B","l":26,"v":0.182},{"s":"Prompt B","l":27,"v":0.184},{"s":"Prompt B","l":28,"v":0.198},{"s":"Prompt B","l":29,"v":0.203},{"s":"Prompt B","l":30,"v":0.2},{"s":"Prompt B","l":31,"v":0.206},{"s":"Prompt B","l":32,"v":0.21},{"s":"Prompt B","l":33,"v":0.209},{"s":"Prompt B","l":34,"v":0.215},{"s":"Prompt B","l":35,"v":0.22}
    ],
    "g5sil": [
      {"s":"Prompt A","l":0,"v":-0.023,"e":0.001},{"s":"Prompt A","l":1,"v":-0.03,"e":0.001},{"s":"Prompt A","l":2,"v":-0.033,"e":0.001},{"s":"Prompt A","l":3,"v":-0.037,"e":0.001},{"s":"Prompt A","l":4,"v":-0.043,"e":0.001},{"s":"Prompt A","l":5,"v":-0.041,"e":0.001},{"s":"Prompt A","l":6,"v":-0.041,"e":0.001},{"s":"Prompt A","l":7,"v":-0.042,"e":0.001},{"s":"Prompt A","l":8,"v":-0.038,"e":0.001},{"s":"Prompt A","l":9,"v":-0.046,"e":0.001},{"s":"Prompt A","l":10,"v":-0.047,"e":0.001},{"s":"Prompt A","l":11,"v":-0.049,"e":0.001},{"s":"Prompt A","l":12,"v":-0.046,"e":0.002},{"s":"Prompt A","l":13,"v":-0.045,"e":0.002},{"s":"Prompt A","l":14,"v":-0.045,"e":0.002},{"s":"Prompt A","l":15,"v":-0.046,"e":0.002},{"s":"Prompt A","l":16,"v":-0.046,"e":0.002},{"s":"Prompt A","l":17,"v":-0.048,"e":0.002},{"s":"Prompt A","l":18,"v":-0.048,"e":0.003},{"s":"Prompt A","l":19,"v":-0.047,"e":0.003},{"s":"Prompt A","l":20,"v":-0.045,"e":0.003},{"s":"Prompt A","l":21,"v":-0.046,"e":0.003},{"s":"Prompt A","l":22,"v":-0.049,"e":0.005},{"s":"Prompt A","l":23,"v":-0.053,"e":0.005},{"s":"Prompt A","l":24,"v":-0.055,"e":0.006},{"s":"Prompt A","l":25,"v":-0.057,"e":0.006},{"s":"Prompt A","l":26,"v":-0.058,"e":0.006},{"s":"Prompt A","l":27,"v":-0.058,"e":0.006},{"s":"Prompt A","l":28,"v":-0.059,"e":0.006},{"s":"Prompt A","l":29,"v":-0.059,"e":0.006},{"s":"Prompt A","l":30,"v":-0.058,"e":0.006},{"s":"Prompt A","l":31,"v":-0.058,"e":0.005},{"s":"Prompt A","l":32,"v":-0.057,"e":0.005},{"s":"Prompt A","l":33,"v":-0.056,"e":0.005},{"s":"Prompt A","l":34,"v":-0.054,"e":0.005},{"s":"Prompt A","l":35,"v":-0.055,"e":0.005},
      {"s":"Prompt A (Rigid + axis scaling)","l":0,"v":-0.024,"e":0.001},{"s":"Prompt A (Rigid + axis scaling)","l":1,"v":-0.03,"e":0.001},{"s":"Prompt A (Rigid + axis scaling)","l":2,"v":-0.033,"e":0.001},{"s":"Prompt A (Rigid + axis scaling)","l":3,"v":-0.037,"e":0.001},{"s":"Prompt A (Rigid + axis scaling)","l":4,"v":-0.043,"e":0.001},{"s":"Prompt A (Rigid + axis scaling)","l":5,"v":-0.041,"e":0.001},{"s":"Prompt A (Rigid + axis scaling)","l":6,"v":-0.041,"e":0.001},{"s":"Prompt A (Rigid + axis scaling)","l":7,"v":-0.042,"e":0.001},{"s":"Prompt A (Rigid + axis scaling)","l":8,"v":-0.038,"e":0.001},{"s":"Prompt A (Rigid + axis scaling)","l":9,"v":-0.046,"e":0.001},{"s":"Prompt A (Rigid + axis scaling)","l":10,"v":-0.047,"e":0.001},{"s":"Prompt A (Rigid + axis scaling)","l":11,"v":-0.048,"e":0.001},{"s":"Prompt A (Rigid + axis scaling)","l":12,"v":-0.045,"e":0.002},{"s":"Prompt A (Rigid + axis scaling)","l":13,"v":-0.044,"e":0.002},{"s":"Prompt A (Rigid + axis scaling)","l":14,"v":-0.042,"e":0.002},{"s":"Prompt A (Rigid + axis scaling)","l":15,"v":-0.042,"e":0.002},{"s":"Prompt A (Rigid + axis scaling)","l":16,"v":-0.041,"e":0.002},{"s":"Prompt A (Rigid + axis scaling)","l":17,"v":-0.041,"e":0.002},{"s":"Prompt A (Rigid + axis scaling)","l":18,"v":-0.041,"e":0.003},{"s":"Prompt A (Rigid + axis scaling)","l":19,"v":-0.04,"e":0.003},{"s":"Prompt A (Rigid + axis scaling)","l":20,"v":-0.036,"e":0.003},{"s":"Prompt A (Rigid + axis scaling)","l":21,"v":-0.036,"e":0.003},{"s":"Prompt A (Rigid + axis scaling)","l":22,"v":-0.037,"e":0.003},{"s":"Prompt A (Rigid + axis scaling)","l":23,"v":-0.039,"e":0.003},{"s":"Prompt A (Rigid + axis scaling)","l":24,"v":-0.039,"e":0.003},{"s":"Prompt A (Rigid + axis scaling)","l":25,"v":-0.04,"e":0.003},{"s":"Prompt A (Rigid + axis scaling)","l":26,"v":-0.04,"e":0.003},{"s":"Prompt A (Rigid + axis scaling)","l":27,"v":-0.04,"e":0.003},{"s":"Prompt A (Rigid + axis scaling)","l":28,"v":-0.041,"e":0.003},{"s":"Prompt A (Rigid + axis scaling)","l":29,"v":-0.041,"e":0.003},{"s":"Prompt A (Rigid + axis scaling)","l":30,"v":-0.04,"e":0.003},{"s":"Prompt A (Rigid + axis scaling)","l":31,"v":-0.04,"e":0.003},{"s":"Prompt A (Rigid + axis scaling)","l":32,"v":-0.04,"e":0.003},{"s":"Prompt A (Rigid + axis scaling)","l":33,"v":-0.039,"e":0.003},{"s":"Prompt A (Rigid + axis scaling)","l":34,"v":-0.038,"e":0.003},{"s":"Prompt A (Rigid + axis scaling)","l":35,"v":-0.04,"e":0.003},
      {"s":"Prompt A (Affine)","l":0,"v":-0.04,"e":0.001},{"s":"Prompt A (Affine)","l":1,"v":-0.041,"e":0.001},{"s":"Prompt A (Affine)","l":2,"v":-0.042,"e":0.001},{"s":"Prompt A (Affine)","l":3,"v":-0.045,"e":0.001},{"s":"Prompt A (Affine)","l":4,"v":-0.051,"e":0.001},{"s":"Prompt A (Affine)","l":5,"v":-0.047,"e":0.001},{"s":"Prompt A (Affine)","l":6,"v":-0.047,"e":0.001},{"s":"Prompt A (Affine)","l":7,"v":-0.045,"e":0.001},{"s":"Prompt A (Affine)","l":8,"v":-0.041,"e":0.001},{"s":"Prompt A (Affine)","l":9,"v":-0.047,"e":0.001},{"s":"Prompt A (Affine)","l":10,"v":-0.048,"e":0.001},{"s":"Prompt A (Affine)","l":11,"v":-0.049,"e":0.001},{"s":"Prompt A (Affine)","l":12,"v":-0.032,"e":0.002},{"s":"Prompt A (Affine)","l":13,"v":-0.032,"e":0.002},{"s":"Prompt A (Affine)","l":14,"v":-0.015,"e":0.002},{"s":"Prompt A (Affine)","l":15,"v":-0.006,"e":0.002},{"s":"Prompt A (Affine)","l":16,"v":0.003,"e":0.002},{"s":"Prompt A (Affine)","l":17,"v":0.021,"e":0.002},{"s":"Prompt A (Affine)","l":18,"v":0.024,"e":0.003},{"s":"Prompt A (Affine)","l":19,"v":0.048,"e":0.003},{"s":"Prompt A (Affine)","l":20,"v":0.053,"e":0.004},{"s":"Prompt A (Affine)","l":21,"v":0.052,"e":0.004},{"s":"Prompt A (Affine)","l":22,"v":0.046,"e":0.004},{"s":"Prompt A (Affine)","l":23,"v":0.049,"e":0.004},{"s":"Prompt A (Affine)","l":24,"v":0.049,"e":0.004},{"s":"Prompt A (Affine)","l":25,"v":0.049,"e":0.004},{"s":"Prompt A (Affine)","l":26,"v":0.05,"e":0.004},{"s":"Prompt A (Affine)","l":27,"v":0.049,"e":0.004},{"s":"Prompt A (Affine)","l":28,"v":0.048,"e":0.004},{"s":"Prompt A (Affine)","l":29,"v":0.048,"e":0.004},{"s":"Prompt A (Affine)","l":30,"v":0.047,"e":0.004},{"s":"Prompt A (Affine)","l":31,"v":0.046,"e":0.004},{"s":"Prompt A (Affine)","l":32,"v":0.044,"e":0.004},{"s":"Prompt A (Affine)","l":33,"v":0.042,"e":0.004},{"s":"Prompt A (Affine)","l":34,"v":0.04,"e":0.004},{"s":"Prompt A (Affine)","l":35,"v":0.037,"e":0.004},
      {"s":"Prompt A (Nonlinear)","l":0,"v":-0.025,"e":0.001},{"s":"Prompt A (Nonlinear)","l":1,"v":-0.032,"e":0.001},{"s":"Prompt A (Nonlinear)","l":2,"v":-0.035,"e":0.001},{"s":"Prompt A (Nonlinear)","l":3,"v":-0.038,"e":0.001},{"s":"Prompt A (Nonlinear)","l":4,"v":-0.045,"e":0.001},{"s":"Prompt A (Nonlinear)","l":5,"v":-0.042,"e":0.001},{"s":"Prompt A (Nonlinear)","l":6,"v":-0.042,"e":0.001},{"s":"Prompt A (Nonlinear)","l":7,"v":-0.042,"e":0.001},{"s":"Prompt A (Nonlinear)","l":8,"v":-0.038,"e":0.001},{"s":"Prompt A (Nonlinear)","l":9,"v":-0.044,"e":0.001},{"s":"Prompt A (Nonlinear)","l":10,"v":-0.045,"e":0.001},{"s":"Prompt A (Nonlinear)","l":11,"v":-0.044,"e":0.001},{"s":"Prompt A (Nonlinear)","l":12,"v":-0.03,"e":0.002},{"s":"Prompt A (Nonlinear)","l":13,"v":-0.03,"e":0.002},{"s":"Prompt A (Nonlinear)","l":14,"v":-0.013,"e":0.002},{"s":"Prompt A (Nonlinear)","l":15,"v":-0.005,"e":0.002},{"s":"Prompt A (Nonlinear)","l":16,"v":0.005,"e":0.002},{"s":"Prompt A (Nonlinear)","l":17,"v":0.022,"e":0.002},{"s":"Prompt A (Nonlinear)","l":18,"v":0.026,"e":0.004},{"s":"Prompt A (Nonlinear)","l":19,"v":0.051,"e":0.004},{"s":"Prompt A (Nonlinear)","l":20,"v":0.058,"e":0.006},{"s":"Prompt A (Nonlinear)","l":21,"v":0.058,"e":0.006},{"s":"Prompt A (Nonlinear)","l":22,"v":0.055,"e":0.006},{"s":"Prompt A (Nonlinear)","l":23,"v":0.066,"e":0.006},{"s":"Prompt A (Nonlinear)","l":24,"v":0.072,"e":0.006},{"s":"Prompt A (Nonlinear)","l":25,"v":0.076,"e":0.006},{"s":"Prompt A (Nonlinear)","l":26,"v":0.078,"e":0.006},{"s":"Prompt A (Nonlinear)","l":27,"v":0.078,"e":0.006},{"s":"Prompt A (Nonlinear)","l":28,"v":0.08,"e":0.006},{"s":"Prompt A (Nonlinear)","l":29,"v":0.081,"e":0.006},{"s":"Prompt A (Nonlinear)","l":30,"v":0.077,"e":0.006},{"s":"Prompt A (Nonlinear)","l":31,"v":0.08,"e":0.006},{"s":"Prompt A (Nonlinear)","l":32,"v":0.079,"e":0.006},{"s":"Prompt A (Nonlinear)","l":33,"v":0.079,"e":0.006},{"s":"Prompt A (Nonlinear)","l":34,"v":0.079,"e":0.006},{"s":"Prompt A (Nonlinear)","l":35,"v":0.079,"e":0.006},
      {"s":"Prompt B","l":0,"v":-0.022,"e":0},{"s":"Prompt B","l":1,"v":-0.03,"e":0},{"s":"Prompt B","l":2,"v":-0.033,"e":0},{"s":"Prompt B","l":3,"v":-0.037,"e":0},{"s":"Prompt B","l":4,"v":-0.043,"e":0},{"s":"Prompt B","l":5,"v":-0.041,"e":0},{"s":"Prompt B","l":6,"v":-0.041,"e":0},{"s":"Prompt B","l":7,"v":-0.041,"e":0},{"s":"Prompt B","l":8,"v":-0.037,"e":0},{"s":"Prompt B","l":9,"v":-0.043,"e":0},{"s":"Prompt B","l":10,"v":-0.044,"e":0},{"s":"Prompt B","l":11,"v":-0.042,"e":0},{"s":"Prompt B","l":12,"v":-0.028,"e":0},{"s":"Prompt B","l":13,"v":-0.028,"e":0},{"s":"Prompt B","l":14,"v":-0.006,"e":0},{"s":"Prompt B","l":15,"v":0.005,"e":0},{"s":"Prompt B","l":16,"v":0.024,"e":0},{"s":"Prompt B","l":17,"v":0.056,"e":0},{"s":"Prompt B","l":18,"v":0.06,"e":0},{"s":"Prompt B","l":19,"v":0.094,"e":0},{"s":"Prompt B","l":20,"v":0.126,"e":0},{"s":"Prompt B","l":21,"v":0.132,"e":0},{"s":"Prompt B","l":22,"v":0.131,"e":0},{"s":"Prompt B","l":23,"v":0.168,"e":0},{"s":"Prompt B","l":24,"v":0.177,"e":0},{"s":"Prompt B","l":25,"v":0.179,"e":0},{"s":"Prompt B","l":26,"v":0.182,"e":0},{"s":"Prompt B","l":27,"v":0.184,"e":0},{"s":"Prompt B","l":28,"v":0.198,"e":0},{"s":"Prompt B","l":29,"v":0.203,"e":0},{"s":"Prompt B","l":30,"v":0.2,"e":0},{"s":"Prompt B","l":31,"v":0.206,"e":0},{"s":"Prompt B","l":32,"v":0.21,"e":0},{"s":"Prompt B","l":33,"v":0.209,"e":0},{"s":"Prompt B","l":34,"v":0.215,"e":0},{"s":"Prompt B","l":35,"v":0.22,"e":0}
    ]
  },
  "columns": 2,
  "spacing": {"row": 16, "column": 16},
  "resolve": {"scale": {"color": "shared", "y": "independent"}},
  "concat": [
    {
      "width": 310, "height": 204,
      "title": "G1_cross_open",
      "resolve": {"axis": {"x": "independent", "y": "independent"}},
      "layer": [
        {"data": {"name": "zero"}, "mark": {"type": "line", "color": "#999", "strokeWidth": 0.9},
         "encoding": {
           "x": {"field": "l", "type": "quantitative", "title": null, "scale": {"domain": [-0.5, 35.5], "nice": false, "zero": false}, "axis": {"orient": "top", "labels": false, "ticks": false, "grid": false}},
           "y": {"field": "z", "type": "quantitative", "title": null, "scale": {"domain": [-0.04, 0.84], "nice": false, "zero": false}, "axis": {"orient": "right", "labels": false, "ticks": false, "grid": false}}
         }},
        {"data": {"name": "g1rsa"}, "mark": {"type": "line", "strokeWidth": 1.8},
         "encoding": {
           "x": {"field": "l", "type": "quantitative", "title": null, "axis": {"orient": "bottom", "values": [0, 10, 20, 30]}},
           "y": {"field": "v", "type": "quantitative", "title": "RSA (Spearman r)", "axis": {"orient": "left", "values": [0, 0.2, 0.4, 0.6, 0.8], "format": ".1f"}},
           "color": {"field": "s", "type": "nominal", "scale": {"domain": ["Prompt A", "Prompt A (Rigid + axis scaling)", "Prompt A (Affine)", "Prompt A (Nonlinear)", "Prompt B"], "range": ["#59a14f", "#f28e2b", "#edc948", "#e15759", "#b07aa1"]},
             "legend": {"orient": "none", "direction": "horizontal", "legendX": -53, "legendY": 501, "title": null, "symbolType": "stroke", "symbolSize": 625, "symbolStrokeWidth": 2.5, "symbolOpacity": 1, "labelFontSize": 10.7, "labelOffset": 7, "columnPadding": 18, "labelLimit": 400,
               "encode": {"symbols": {"update": {"opacity": {"value": 1}, "strokeOpacity": {"value": 1}}}}}}
         }}
      ]
    },
    {
      "width": 310, "height": 204,
      "title": "G5_irr_open",
      "resolve": {"axis": {"x": "independent", "y": "independent"}},
      "layer": [
        {"data": {"name": "zero"}, "mark": {"type": "line", "color": "#999", "strokeWidth": 0.9},
         "encoding": {
           "x": {"field": "l", "type": "quantitative", "title": null, "scale": {"domain": [-0.5, 35.5], "nice": false, "zero": false}, "axis": {"orient": "top", "labels": false, "ticks": false, "grid": false}},
           "y": {"field": "z", "type": "quantitative", "title": null, "scale": {"domain": [-0.04, 0.84], "nice": false, "zero": false}, "axis": {"orient": "right", "labels": false, "ticks": false, "grid": false}}
         }},
        {"data": {"name": "g5rsa"}, "mark": {"type": "errorband", "opacity": 0.2},
         "encoding": {
           "x": {"field": "l", "type": "quantitative", "axis": null},
           "y": {"field": "v", "type": "quantitative", "axis": null},
           "yError": {"field": "e"},
           "color": {"field": "s", "type": "nominal"}
         }},
        {"data": {"name": "g5rsa"}, "mark": {"type": "line", "strokeWidth": 1.8},
         "encoding": {
           "x": {"field": "l", "type": "quantitative", "title": null, "axis": {"orient": "bottom", "values": [0, 10, 20, 30]}},
           "y": {"field": "v", "type": "quantitative", "title": "RSA (Spearman r)", "axis": {"orient": "left", "values": [0, 0.2, 0.4, 0.6, 0.8], "format": ".1f"}},
           "color": {"field": "s", "type": "nominal"}
         }}
      ]
    },
    {
      "width": 310, "height": 204,
      "resolve": {"axis": {"x": "independent", "y": "independent"}},
      "layer": [
        {"data": {"name": "zero"}, "mark": {"type": "line", "color": "#999", "strokeWidth": 0.9},
         "encoding": {
           "x": {"field": "l", "type": "quantitative", "title": null, "scale": {"domain": [-0.5, 35.5], "nice": false, "zero": false}, "axis": {"orient": "top", "labels": false, "ticks": false, "grid": false}},
           "y": {"field": "z", "type": "quantitative", "title": null, "scale": {"domain": [-0.064, 0.234], "nice": false, "zero": false}, "axis": {"orient": "right", "labels": false, "ticks": false, "grid": false}}
         }},
        {"data": {"name": "g1sil"}, "mark": {"type": "line", "strokeWidth": 1.8},
         "encoding": {
           "x": {"field": "l", "type": "quantitative", "title": "Layer", "axis": {"orient": "bottom", "values": [0, 10, 20, 30]}},
           "y": {"field": "v", "type": "quantitative", "title": "Silhouette score", "axis": {"orient": "left", "values": [-0.05, 0, 0.05, 0.1, 0.15, 0.2], "format": ".2f"}},
           "color": {"field": "s", "type": "nominal"}
         }}
      ]
    },
    {
      "width": 310, "height": 204,
      "resolve": {"axis": {"x": "independent", "y": "independent"}},
      "layer": [
        {"data": {"name": "zero"}, "mark": {"type": "line", "color": "#999", "strokeWidth": 0.9},
         "encoding": {
           "x": {"field": "l", "type": "quantitative", "title": null, "scale": {"domain": [-0.5, 35.5], "nice": false, "zero": false}, "axis": {"orient": "top", "labels": false, "ticks": false, "grid": false}},
           "y": {"field": "z", "type": "quantitative", "title": null, "scale": {"domain": [-0.081, 0.236], "nice": false, "zero": false}, "axis": {"orient": "right", "labels": false, "ticks": false, "grid": false}}
         }},
        {"data": {"name": "g5sil"}, "mark": {"type": "errorband", "opacity": 0.2},
         "encoding": {
           "x": {"field": "l", "type": "quantitative", "axis": null},
           "y": {"field": "v", "type": "quantitative", "axis": null},
           "yError": {"field": "e"},
           "color": {"field": "s", "type": "nominal"}
         }},
        {"data": {"name": "g5sil"}, "mark": {"type": "line", "strokeWidth": 1.8},
         "encoding": {
           "x": {"field": "l", "type": "quantitative", "title": "Layer", "axis": {"orient": "bottom", "values": [0, 10, 20, 30]}},
           "y": {"field": "v", "type": "quantitative", "title": "Silhouette score", "axis": {"orient": "left", "values": [-0.05, 0, 0.05, 0.1, 0.15, 0.2], "format": ".2f"}},
           "color": {"field": "s", "type": "nominal"}
         }}
      ]
    }
  ]
}
